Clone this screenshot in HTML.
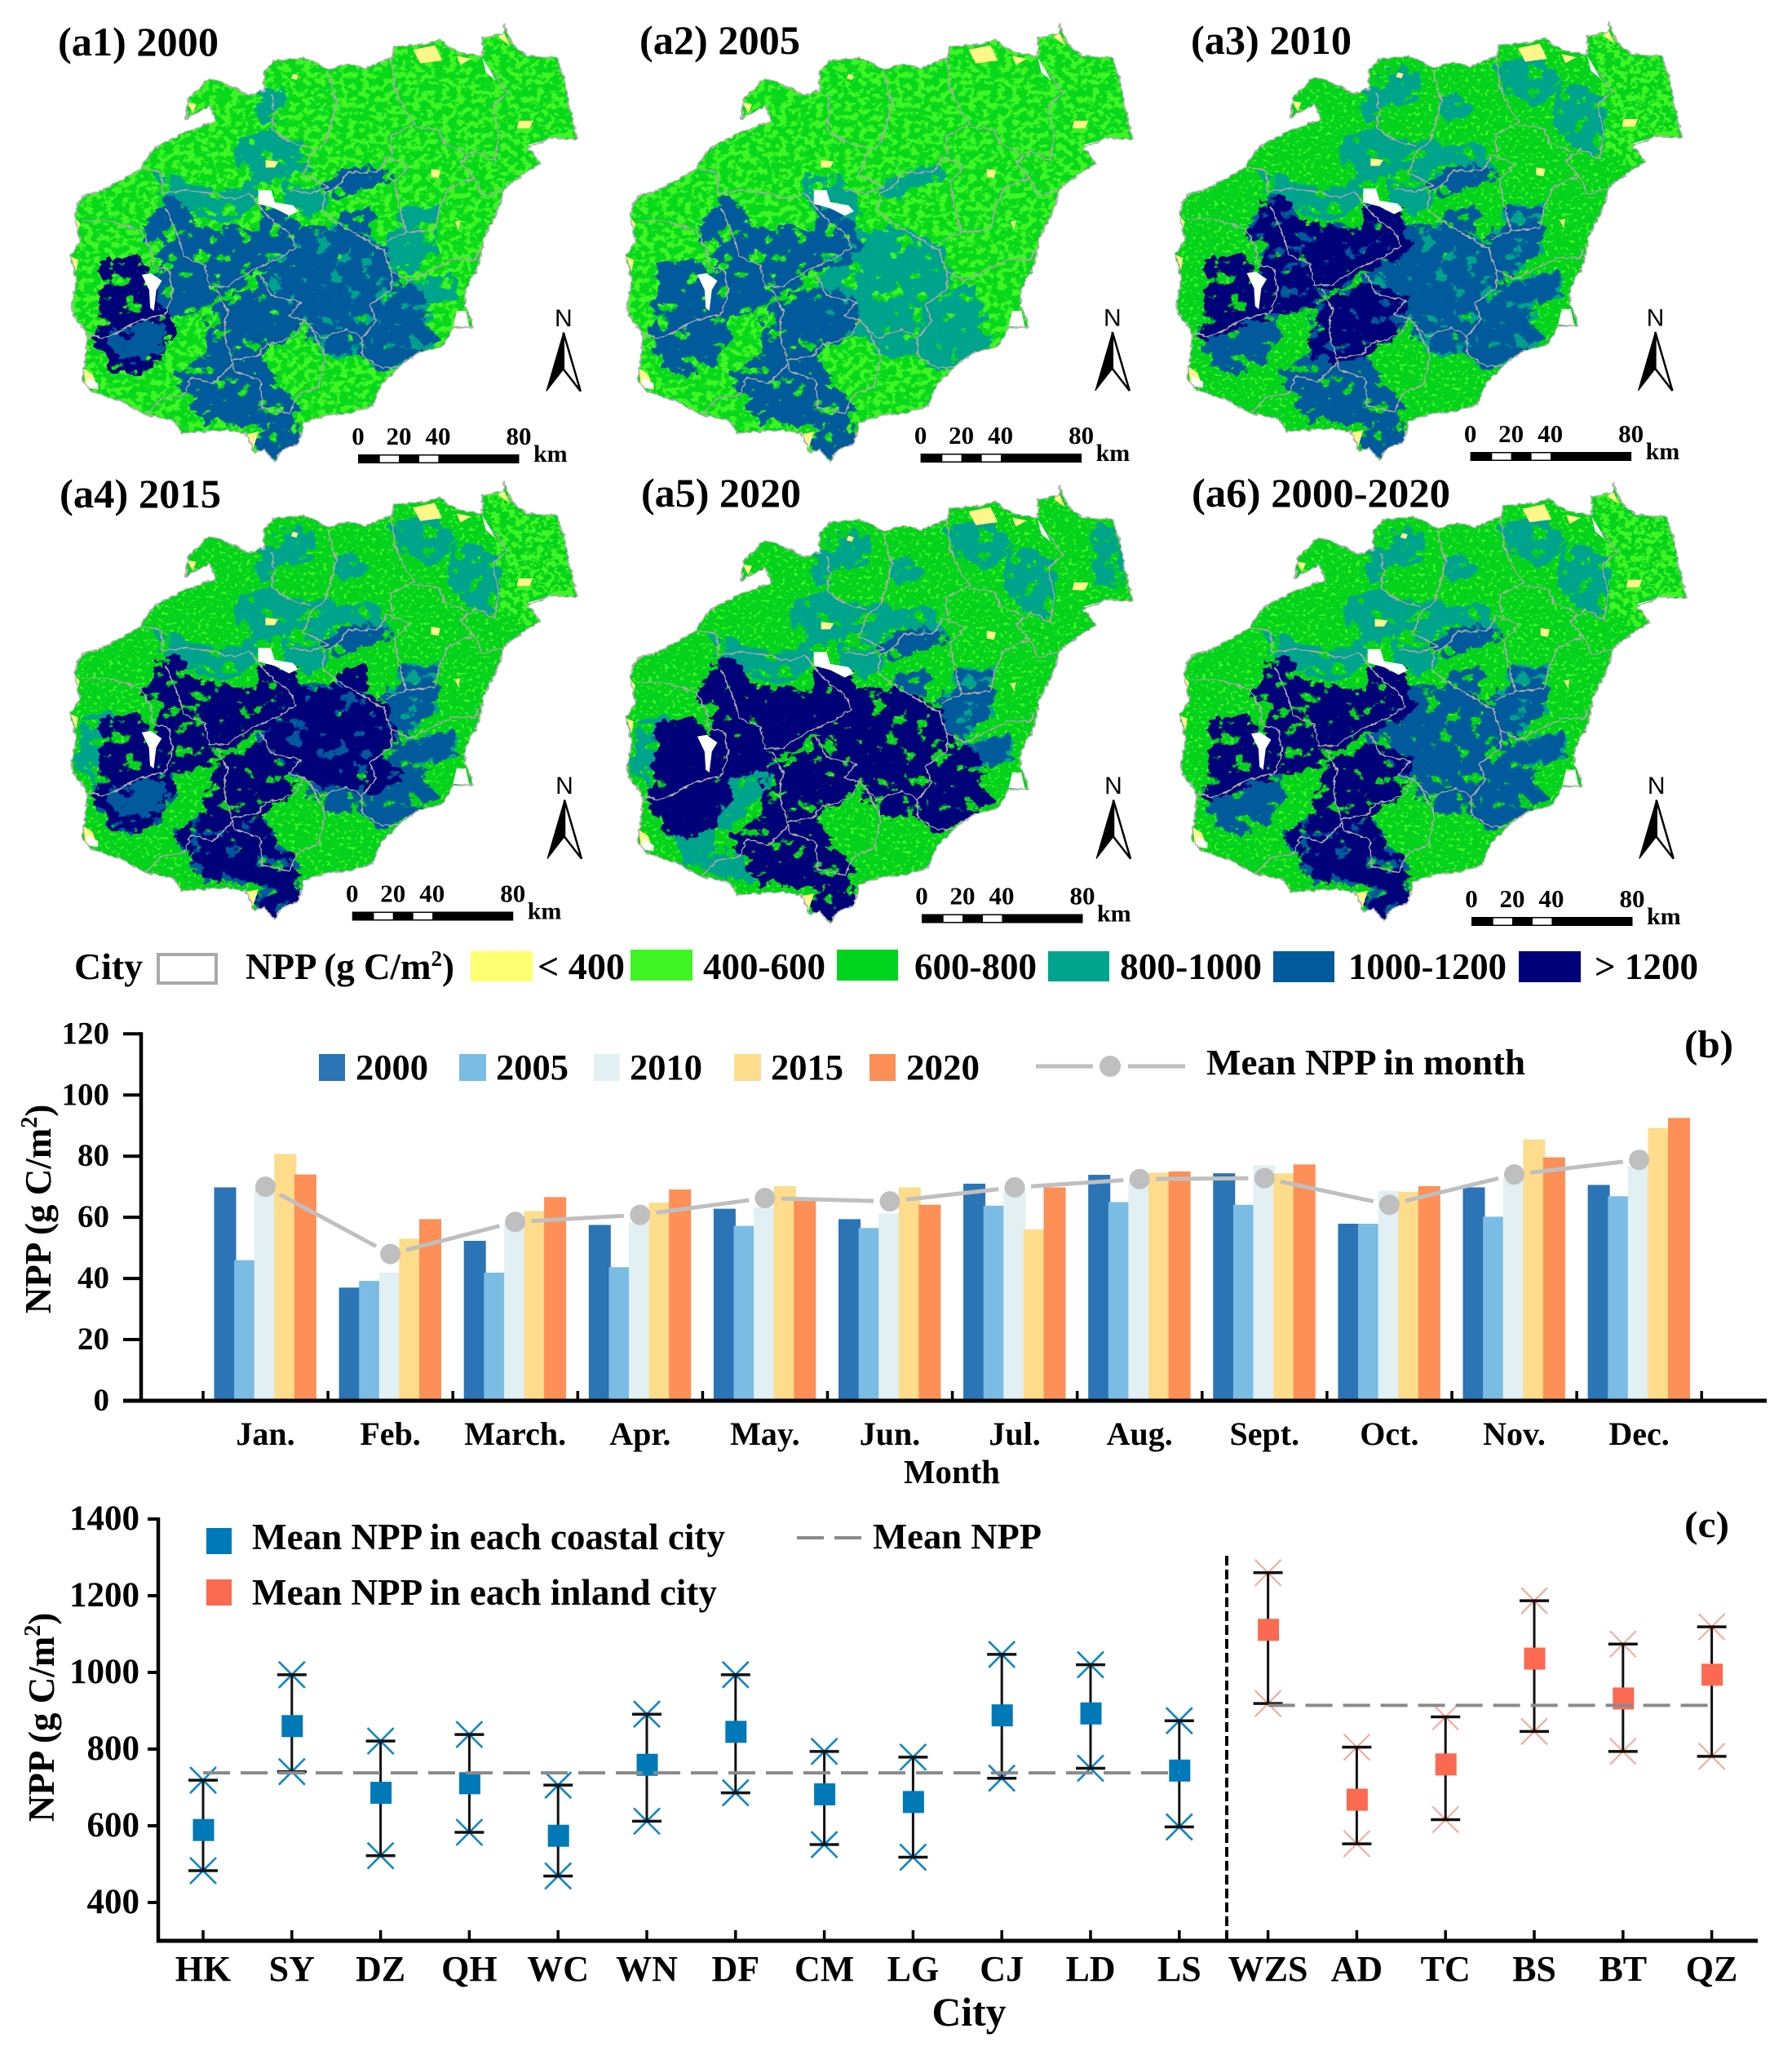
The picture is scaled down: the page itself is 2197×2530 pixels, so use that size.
<!DOCTYPE html>
<html lang="en">
<head>
<meta charset="utf-8">
<title>NPP maps and charts of Hainan</title>
<style>
html,body{margin:0;padding:0;background:#fff;}
svg{display:block;}
text{font-family:"Liberation Serif",serif;font-weight:bold;fill:#000;}
.sans{font-family:"Liberation Sans",sans-serif;font-weight:normal;}
.cls-teal{fill:#00a38c;stroke:#00a38c;stroke-width:30;stroke-linejoin:round;}
.cls-blue{fill:#005a9c;stroke:#005a9c;stroke-width:30;stroke-linejoin:round;}
.cls-navy{fill:#000078;stroke:#000078;stroke-width:30;stroke-linejoin:round;}
</style>
</head>
<body>
<svg id="figure" xmlns="http://www.w3.org/2000/svg" width="2197" height="2530" viewBox="0 0 2197 2530">
<defs>
  <polygon id="island" points="1230,80 1255,150 1290,185 1375,190 1395,260 1415,380 1432,460 1350,460 1295,490 1330,540 1290,570 1230,625 1215,690 1175,790 1160,880 1125,960 1125,1010 1145,1085 1090,1085 1060,1150 1000,1165 940,1215 890,1280 870,1345 820,1365 735,1380 680,1400 665,1470 620,1490 600,1530 570,1490 545,1500 520,1435 470,1425 345,1435 325,1395 245,1375 190,1335 100,1300 70,1260 80,1190 85,1110 50,1050 40,1020 55,930 40,850 65,800 50,710 70,650 130,630 230,560 270,490 350,440 440,400 420,350 355,395 360,330 420,260 470,280 530,315 570,300 570,240 600,200 680,190 750,230 800,210 850,225 920,190 930,155 1020,145 1050,130 1100,170 1170,185 1170,125 1230,110"/>
  <clipPath id="island-clip"><use href="#island"/></clipPath>
  <filter id="edge" filterUnits="userSpaceOnUse" x="0" y="0" width="1568" height="1568" color-interpolation-filters="sRGB">
    <feTurbulence type="fractalNoise" baseFrequency="0.06" numOctaves="2" seed="5" result="n"/>
    <feDisplacementMap in="SourceGraphic" in2="n" scale="14" xChannelSelector="R" yChannelSelector="G"/>
  </filter>
  <filter id="rough" filterUnits="userSpaceOnUse" x="0" y="0" width="1568" height="1568" color-interpolation-filters="sRGB">
    <feTurbulence type="fractalNoise" baseFrequency="0.025" numOctaves="4" seed="3" result="n"/>
    <feDisplacementMap in="SourceGraphic" in2="n" scale="60" xChannelSelector="R" yChannelSelector="G" result="d"/>
    <feTurbulence type="fractalNoise" baseFrequency="0.022" numOctaves="4" seed="8" result="m"/>
    <feColorMatrix in="m" type="matrix" values="0 0 0 0 0  0 0 0 0 0  0 0 0 0 0  14 0 0 0 -4.6" result="mask"/>
    <feComposite in="d" in2="mask" operator="in"/>
  </filter>
  <filter id="rough-b" filterUnits="userSpaceOnUse" x="0" y="0" width="1568" height="1568" color-interpolation-filters="sRGB">
    <feTurbulence type="fractalNoise" baseFrequency="0.03" numOctaves="4" seed="11" result="n"/>
    <feDisplacementMap in="SourceGraphic" in2="n" scale="60" xChannelSelector="R" yChannelSelector="G" result="d"/>
    <feTurbulence type="fractalNoise" baseFrequency="0.024" numOctaves="4" seed="21" result="m"/>
    <feColorMatrix in="m" type="matrix" values="0 0 0 0 0  0 0 0 0 0  0 0 0 0 0  14 0 0 0 -4.4" result="mask"/>
    <feComposite in="d" in2="mask" operator="in"/>
  </filter>
  <filter id="speck-heavy" filterUnits="userSpaceOnUse" x="0" y="0" width="1568" height="1568" color-interpolation-filters="sRGB">
    <feTurbulence type="fractalNoise" baseFrequency="0.05" numOctaves="3" seed="2" result="m"/>
    <feColorMatrix in="m" type="matrix" values="0 0 0 0 0  0 0 0 0 0  0 0 0 0 0  12 0 0 0 -5.9" result="mask"/>
    <feComposite in="SourceGraphic" in2="mask" operator="in"/>
  </filter>
  <filter id="speck-light" filterUnits="userSpaceOnUse" x="0" y="0" width="1568" height="1568" color-interpolation-filters="sRGB">
    <feTurbulence type="fractalNoise" baseFrequency="0.09" numOctaves="2" seed="7" result="m"/>
    <feColorMatrix in="m" type="matrix" values="0 0 0 0 0  0 0 0 0 0  0 0 0 0 0  12 0 0 0 -7.2" result="mask"/>
    <feComposite in="SourceGraphic" in2="mask" operator="in"/>
  </filter>

  <!-- region shapes shared by the six maps -->
  <g id="r-i"><polygon points="560,340 590,300 610,340 610,390 570,390"/><polygon points="930,230 1020,210 1080,250 1060,320 1000,340 960,300"/><polygon points="780,330 830,340 830,380 790,390"/><polygon points="1100,300 1180,320 1210,400 1190,500 1120,480 1090,400"/><polygon points="620,240 700,260 700,300 640,340 610,300"/><polygon points="700,480 800,500 870,500 900,560 820,550 770,590 700,600"/></g>
  <g id="r-a"><polygon points="290,580 350,620 420,640 500,650 530,610 540,660 520,700 450,730 370,690 300,670"/><polygon points="500,470 580,440 660,480 680,540 620,590 550,590 520,540"/><polygon points="640,620 700,640 740,650 730,700 670,700 650,680"/></g>
  <polygon id="r-j" points="750,620 790,570 880,560 900,590 830,620 770,640"/>
  <polygon id="r-j2" points="790,720 850,700 850,760 810,760"/>
  <g id="r-b"><polygon points="300,670 350,680 345,730 420,770 500,770 570,790 640,770 665,820 640,860 570,880 530,910 470,950 430,960 420,1000 340,1030 300,1040 265,1020 265,960 300,900 290,880 320,800 250,780"/><polygon points="570,700 640,720 665,800 600,820 560,760"/></g>
  <polygon id="r-c" points="135,890 210,870 245,900 230,940 260,960 265,1030 300,1050 230,1060 150,1100 115,1110 130,1050 130,980 150,930"/>
  <polygon id="r-d" points="115,1115 170,1090 240,1065 310,1060 310,1120 270,1190 220,1225 170,1220 140,1160"/>
  <polygon id="r-d2" points="160,1110 240,1085 290,1085 280,1150 230,1190 180,1170"/>
  <polygon id="r-e" points="470,1000 580,960 660,1000 660,1060 640,1110 590,1130 550,1180 480,1190 420,1170 430,1060"/>
  <polygon id="r-f" points="500,1200 560,1200 590,1280 640,1330 650,1440 680,1470 590,1520 560,1460 610,1400 500,1390 400,1380 380,1300 340,1240 410,1200"/>
  <polygon id="r-g" points="570,940 610,880 680,770 760,760 900,830 920,930 880,1000 940,1050 880,1100 780,1090 720,1070 660,1040 600,980"/>
  <polygon id="r-h" points="700,1100 790,1100 840,1100 880,1060 870,1000 920,950 980,960 1020,1020 990,1090 1040,1120 960,1190 900,1215 850,1180 830,1160 750,1170"/>
  <g id="r-k"><polygon points="910,790 1030,760 1030,830 960,900 920,880"/><polygon points="960,700 1040,700 1020,750 960,750"/><polygon points="990,950 1080,920 1080,980 1000,1010"/></g>
  <g id="r-t5"><polygon points="440,1010 420,1080 350,1170 290,1210 240,1270 340,1300 390,1370 300,1370 200,1310 170,1230 280,1130 340,1050"/><polygon points="80,880 140,860 150,980 110,1080 70,1000"/></g>
  <polygon id="r-ne" points="1180,100 1440,150 1440,480 1300,560 1200,500 1210,300"/>

  <g id="yellow-spots" fill="#fdf78a">
    <polygon points="980,165 1040,150 1060,200 1000,210"/><polygon points="1100,185 1140,195 1110,215"/><polygon points="360,340 385,345 375,375"/><polygon points="1225,95 1245,150 1215,125"/><polygon points="1270,400 1310,400 1300,425 1265,425"/><polygon points="575,530 610,535 600,555 575,555"/><polygon points="1030,560 1055,565 1050,590 1030,585"/><polygon points="650,245 665,250 660,265 645,260"/><polygon points="75,1220 100,1240 115,1290 80,1280"/><polygon points="520,1440 555,1430 540,1490"/><polygon points="40,850 60,860 55,900"/><polygon points="50,720 65,740 55,790 48,760"/><polygon points="1095,735 1110,730 1105,760"/>
  </g>
  <g id="white-spots" fill="#fff">
    <polygon points="555,630 590,630 600,670 650,680 665,700 640,715 600,690 555,675"/><polygon points="235,910 260,905 290,930 275,960 268,1030 278,1040 258,1020 255,960"/><polygon points="85,1250 115,1270 115,1290 85,1285"/><polygon points="1170,190 1195,240 1205,265 1180,240"/><polygon points="1100,1030 1125,1030 1135,1085 1090,1080"/><polygon points="1295,480 1350,462 1320,490"/>
  </g>
  <g id="city-lines" fill="none" stroke="#a9a9a9" stroke-width="4" stroke-linejoin="round">
    <polyline points="240,560 290,570 290,640 360,630 420,640 490,660 530,640 570,700 600,740 640,770 660,820 620,850 570,880 530,900 470,950 420,950 410,880 350,850 330,770 300,690"/>
    <polyline points="70,730 140,730 230,760 260,830 265,880 310,900 320,970 300,1040 230,1060 170,1100 130,1120 85,1110"/>
    <polyline points="440,960 470,1030 460,1100 480,1190 550,1180 580,1140 620,1130 660,1110 680,1060 640,1050 670,1000 590,980 560,910"/>
    <polyline points="480,1190 490,1230 560,1260 565,1350 640,1370 670,1300 720,1280 740,1180 700,1090"/>
    <polyline points="490,1200 430,1270 370,1250 350,1310 290,1320 245,1375"/>
    <polyline points="680,1060 730,1120 800,1090 840,1120 840,1180 900,1220 940,1215"/>
    <polyline points="840,1120 880,1060 860,1010 920,960 920,900 900,830 800,760 730,700 740,640 780,610 800,570 880,570 910,520 970,550 930,600 940,680 960,770 905,800"/>
    <polyline points="640,630 700,640 750,620 680,580 700,510 740,470 770,340 745,240"/>
    <polyline points="590,310 600,370 590,430 640,470 700,490"/>
    <polyline points="920,900 970,930 1090,860 1150,860 1160,830"/>
    <polyline points="960,770 1040,760 1050,700 1080,620 1150,590 1110,540 1150,500 1205,530 1215,450 1200,350 1240,310 1200,240"/>
    <polyline points="920,190 930,290 960,370 985,410 920,450 920,510"/>
    <polyline points="985,420 1050,430 1070,480 1130,510"/>
    <polyline points="1150,590 1170,650 1225,630"/>
  </g>
</defs>

<rect x="0" y="0" width="2197" height="2530" fill="#fff"/>

<!-- MAP a1 -->
<g transform="translate(69 0) scale(.4464 .37)">
  <use href="#island" fill="#08d81c" filter="url(#edge)"/>
  <g clip-path="url(#island-clip)">
    <rect width="1568" height="1568" fill="#3ff524" filter="url(#speck-heavy)"/>
    <g class="cls-teal" filter="url(#rough)"><use href="#r-a"/><use href="#r-g"/><use href="#r-h"/><use href="#r-k"/><polygon points="560,340 590,300 610,340 610,390 570,390"/></g>
    <g class="cls-blue" filter="url(#rough-b)"><use href="#r-b"/><use href="#r-e"/><use href="#r-f"/><use href="#r-g"/><use href="#r-h"/><use href="#r-j"/><use href="#r-j2"/></g>
    <g class="cls-navy" filter="url(#rough)"><use href="#r-c"/><use href="#r-d"/></g>
    <use href="#r-d2" class="cls-blue" filter="url(#rough-b)"/>
    <use href="#yellow-spots"/><use href="#white-spots"/>
  </g>
  <use href="#city-lines" filter="url(#edge)"/>
  <use href="#island" fill="none" stroke="#b4b4b4" stroke-width="4" filter="url(#edge)"/>
</g>
<!-- MAP a2 -->
<g transform="translate(750 0) scale(.4464 .37)">
  <use href="#island" fill="#08d81c" filter="url(#edge)"/>
  <g clip-path="url(#island-clip)">
    <rect width="1568" height="1568" fill="#3ff524" filter="url(#speck-heavy)"/>
    <g class="cls-teal" filter="url(#rough)"><use href="#r-g"/><use href="#r-h"/><use href="#r-g"/><use href="#r-j"/><polygon points="540,600 640,620 660,720 570,700"/><polygon points="560,1000 680,1000 700,1090 590,1120"/></g>
    <g class="cls-blue" filter="url(#rough-b)"><use href="#r-b"/><use href="#r-c"/><use href="#r-d"/><use href="#r-e"/><use href="#r-f"/></g>
    <use href="#yellow-spots"/><use href="#white-spots"/>
  </g>
  <use href="#city-lines" filter="url(#edge)"/>
  <use href="#island" fill="none" stroke="#b4b4b4" stroke-width="4" filter="url(#edge)"/>
</g>
<!-- MAP a3 -->
<g transform="translate(1423.6 -2) scale(.4464 .37)">
  <use href="#island" fill="#04d21c" filter="url(#edge)"/>
  <g clip-path="url(#island-clip)">
    <rect width="1568" height="1568" fill="#3ff524" filter="url(#speck-light)"/>
    <use href="#r-ne" fill="#3ff524" filter="url(#speck-heavy)"/>
    <g class="cls-teal" filter="url(#rough)"><use href="#r-i"/><use href="#r-a"/><use href="#r-g"/><use href="#r-h"/><use href="#r-k"/></g>
    <g class="cls-blue" filter="url(#rough-b)"><use href="#r-d"/><use href="#r-f"/><use href="#r-g"/><use href="#r-h"/><use href="#r-j"/><use href="#r-j2"/><use href="#r-k"/><use href="#r-b"/><use href="#r-e"/></g>
    <g class="cls-navy" filter="url(#rough)"><use href="#r-b"/><use href="#r-c"/><use href="#r-e"/></g>
    <use href="#yellow-spots"/><use href="#white-spots"/>
  </g>
  <use href="#city-lines" filter="url(#edge)"/>
  <use href="#island" fill="none" stroke="#b4b4b4" stroke-width="4" filter="url(#edge)"/>
</g>
<!-- MAP a4 -->
<g transform="translate(68.8 561) scale(.4464 .37)">
  <use href="#island" fill="#04d21c" filter="url(#edge)"/>
  <g clip-path="url(#island-clip)">
    <rect width="1568" height="1568" fill="#3ff524" filter="url(#speck-light)"/>
    <use href="#r-ne" fill="#3ff524" filter="url(#speck-heavy)"/>
    <g class="cls-teal" filter="url(#rough)"><use href="#r-i"/><use href="#r-a"/><use href="#r-k"/><use href="#r-g"/><polygon points="80,880 140,860 150,980 110,1080 70,1000"/></g>
    <g class="cls-blue" filter="url(#rough-b)"><use href="#r-d"/><use href="#r-h"/><use href="#r-f"/><use href="#r-g"/><use href="#r-j"/><use href="#r-k"/></g>
    <g class="cls-navy" filter="url(#rough)"><use href="#r-b"/><use href="#r-c"/><use href="#r-d"/><use href="#r-e"/><use href="#r-f"/><use href="#r-g"/><use href="#r-j2"/></g>
    <use href="#r-d2" class="cls-blue" filter="url(#rough-b)"/>
    <use href="#yellow-spots"/><use href="#white-spots"/>
  </g>
  <use href="#city-lines" filter="url(#edge)"/>
  <use href="#island" fill="none" stroke="#b4b4b4" stroke-width="4" filter="url(#edge)"/>
</g>
<!-- MAP a5 -->
<g transform="translate(750 566) scale(.4464 .37)">
  <use href="#island" fill="#04d21c" filter="url(#edge)"/>
  <g clip-path="url(#island-clip)">
    <rect width="1568" height="1568" fill="#3ff524" filter="url(#speck-light)"/>
    <g class="cls-teal" filter="url(#rough)"><use href="#r-i"/><use href="#r-a"/><use href="#r-k"/><use href="#r-t5"/><use href="#r-t5"/><polygon points="1330,220 1390,240 1400,420 1340,400"/></g>
    <g class="cls-blue" filter="url(#rough-b)"><use href="#r-h"/><use href="#r-j"/><use href="#r-k"/><use href="#r-j2"/></g>
    <g class="cls-navy" filter="url(#rough-b)"><use href="#r-b"/><use href="#r-c"/><use href="#r-d"/><use href="#r-e"/><use href="#r-f"/><use href="#r-g"/><use href="#r-h"/></g>
    <g class="cls-navy" filter="url(#rough)"><use href="#r-b"/><use href="#r-d"/><use href="#r-c"/></g>
    <use href="#yellow-spots"/><use href="#white-spots"/>
  </g>
  <use href="#city-lines" filter="url(#edge)"/>
  <use href="#island" fill="none" stroke="#b4b4b4" stroke-width="4" filter="url(#edge)"/>
</g>
<!-- MAP a6 -->
<g transform="translate(1429 562.6) scale(.4464 .37)">
  <use href="#island" fill="#04d21c" filter="url(#edge)"/>
  <g clip-path="url(#island-clip)">
    <rect width="1568" height="1568" fill="#3ff524" filter="url(#speck-light)"/>
    <use href="#r-ne" fill="#3ff524" filter="url(#speck-heavy)"/>
    <g class="cls-teal" filter="url(#rough)"><use href="#r-i"/><use href="#r-a"/><use href="#r-k"/></g>
    <g class="cls-blue" filter="url(#rough-b)"><use href="#r-d"/><use href="#r-g"/><use href="#r-h"/><use href="#r-j"/><use href="#r-j2"/><use href="#r-k"/><use href="#r-f"/></g>
    <g class="cls-navy" filter="url(#rough)"><use href="#r-b"/><use href="#r-c"/><use href="#r-e"/><use href="#r-f"/></g>
    <use href="#yellow-spots"/><use href="#white-spots"/>
  </g>
  <use href="#city-lines" filter="url(#edge)"/>
  <use href="#island" fill="none" stroke="#b4b4b4" stroke-width="4" filter="url(#edge)"/>
</g>

<text x="71" y="68" font-size="50" textLength="197" lengthAdjust="spacingAndGlyphs">(a1) 2000</text>
<text x="784" y="66" font-size="50" textLength="197" lengthAdjust="spacingAndGlyphs">(a2) 2005</text>
<text x="1460" y="66" font-size="50" textLength="197" lengthAdjust="spacingAndGlyphs">(a3) 2010</text>
<text x="73" y="622" font-size="50" textLength="198" lengthAdjust="spacingAndGlyphs">(a4) 2015</text>
<text x="786" y="621" font-size="50" textLength="196" lengthAdjust="spacingAndGlyphs">(a5) 2020</text>
<text x="1461" y="621" font-size="50" textLength="317" lengthAdjust="spacingAndGlyphs">(a6) 2000-2020</text>

<g id="map-furniture"></g>

<!-- top legend -->
<g>
  <text x="91" y="1200" font-size="46" textLength="84" lengthAdjust="spacingAndGlyphs">City</text>
  <rect x="194" y="1170" width="71" height="35" fill="#fff" stroke="#aaa" stroke-width="4"/>
  <text x="301" y="1200" font-size="45">NPP (g C/m<tspan dy="-16" font-size="27">2</tspan><tspan dy="16">)</tspan></text>
  <rect x="577" y="1166" width="76" height="37" fill="#ffff73"/>
  <text x="659" y="1200" font-size="45" textLength="107" lengthAdjust="spacingAndGlyphs">&lt; 400</text>
  <rect x="773" y="1164" width="76" height="38" fill="#3ff524"/>
  <text x="862" y="1200" font-size="45" textLength="150" lengthAdjust="spacingAndGlyphs">400-600</text>
  <rect x="1026" y="1164" width="75" height="38" fill="#00d41f"/>
  <text x="1121" y="1200" font-size="45" textLength="150" lengthAdjust="spacingAndGlyphs">600-800</text>
  <rect x="1285" y="1166" width="75" height="37" fill="#00a38c"/>
  <text x="1373" y="1200" font-size="45" textLength="174" lengthAdjust="spacingAndGlyphs">800-1000</text>
  <rect x="1561" y="1166" width="75" height="38" fill="#005a9c"/>
  <text x="1653" y="1200" font-size="45" textLength="194" lengthAdjust="spacingAndGlyphs">1000-1200</text>
  <rect x="1862" y="1166" width="76" height="38" fill="#000078"/>
  <text x="1955" y="1200" font-size="45" textLength="127" lengthAdjust="spacingAndGlyphs">&gt; 1200</text>
</g>

<!-- chart b static text -->
<g id="chart-b"></g>
<text transform="translate(62 1482) rotate(-90)" text-anchor="middle" font-size="45">NPP (g C/m<tspan dy="-17" font-size="28">2</tspan><tspan dy="17">)</tspan></text>
<text x="1167" y="1818" text-anchor="middle" font-size="41" textLength="118" lengthAdjust="spacingAndGlyphs">Month</text>
<text x="2065" y="1296" font-size="48" textLength="60" lengthAdjust="spacingAndGlyphs">(b)</text>
<g>
  <rect x="391" y="1292" width="32" height="33" fill="#2b74b5"/>
  <text x="436" y="1323" font-size="44" textLength="89" lengthAdjust="spacingAndGlyphs">2000</text>
  <rect x="563" y="1292" width="33" height="33" fill="#7abce4"/>
  <text x="608" y="1323" font-size="44" textLength="89" lengthAdjust="spacingAndGlyphs">2005</text>
  <rect x="728" y="1292" width="32" height="33" fill="#e2f0f4"/>
  <text x="772" y="1323" font-size="44" textLength="89" lengthAdjust="spacingAndGlyphs">2010</text>
  <rect x="900" y="1292" width="33" height="33" fill="#fddc8c"/>
  <text x="945" y="1323" font-size="44" textLength="89" lengthAdjust="spacingAndGlyphs">2015</text>
  <rect x="1066" y="1292" width="32" height="33" fill="#fe8f57"/>
  <text x="1111" y="1323" font-size="44" textLength="90" lengthAdjust="spacingAndGlyphs">2020</text>
  <line x1="1270" y1="1307" x2="1340" y2="1307" stroke="#bfbfbf" stroke-width="5"/>
  <circle cx="1361" cy="1307" r="13" fill="#bfbfbf"/>
  <line x1="1383" y1="1307" x2="1453" y2="1307" stroke="#bfbfbf" stroke-width="5"/>
  <text x="1479" y="1317" font-size="44" textLength="391" lengthAdjust="spacingAndGlyphs">Mean NPP in month</text>
</g>

<!-- chart c static text -->
<g id="chart-c"></g>
<text transform="translate(66 2105) rotate(-90)" text-anchor="middle" font-size="45">NPP (g C/m<tspan dy="-17" font-size="28">2</tspan><tspan dy="17">)</tspan></text>
<text x="1188" y="2483" text-anchor="middle" font-size="50" textLength="91" lengthAdjust="spacingAndGlyphs">City</text>
<text x="2065" y="1884" font-size="46" textLength="55" lengthAdjust="spacingAndGlyphs">(c)</text>
<g>
  <rect x="253" y="1873" width="31" height="32" fill="#0079b8"/>
  <text x="309" y="1899" font-size="45" textLength="580" lengthAdjust="spacingAndGlyphs">Mean NPP in each coastal city</text>
  <rect x="253" y="1936" width="31" height="32" fill="#fb6a50"/>
  <text x="309" y="1967" font-size="45" textLength="570" lengthAdjust="spacingAndGlyphs">Mean NPP in each inland city</text>
  <line x1="977" y1="1885" x2="1056" y2="1885" stroke="#8a8a8a" stroke-width="4" stroke-dasharray="33 13"/>
  <text x="1070" y="1898" font-size="44" textLength="207" lengthAdjust="spacingAndGlyphs">Mean NPP</text>
</g>

<script>
// ---- Chart (b) data ----
const months = ['Jan.','Feb.','March.','Apr.','May.','Jun.','Jul.','Aug.','Sept.','Oct.','Nov.','Dec.'];
const years = ['2000','2005','2010','2015','2020'];
const npp2000 = [69.8,37,52.3,57.5,62.8,59.4,71,73.9,74.4,57.9,69.8,70.6];
const npp2005 = [46,39.2,41.9,43.7,57.2,56.5,63.8,65,64.1,57.9,60.2,66.9];
const npp2010 = [69.5,41.9,58,58.4,63.3,61.3,69.5,72.5,77,68.7,72.5,76.6];
const npp2015 = [80.7,53,62,64.8,70.2,69.8,56,74.6,74.4,68.3,85.5,89.2];
const npp2020 = [74,59.4,66.6,69.1,65.9,64.1,69.8,75,77.3,70.2,79.6,92.5];
const monthMean = [70,48,58.5,60.8,66.3,65.2,69.8,72.5,72.8,64.1,74,78.8];
const bTicks = [0,20,40,60,80,100,120];
const barColors = ['#2b74b5','#7abce4','#e2f0f4','#fddc8c','#fe8f57'];

// ---- Chart (c) data ----
const cities = ['HK','SY','DZ','QH','WC','WN','DF','CM','LG','CJ','LD','LS','WZS','AD','TC','BS','BT','QZ'];
const coastalCount = 12;
const cityMean = [589,860,686,711,574,759,845,682,662,888,893,744,1111,668,760,1036,932,994];
const cityUpper = [719,994,821,838,706,891,994,794,779,1047,1020,874,1260,805,884,1187,1074,1119];
const cityLower = [483,741,522,583,469,612,686,551,518,724,750,597,919,553,616,846,794,781];
const coastalMean = 738;
const inlandMean = 914;
const cTicks = [400,600,800,1000,1200,1400];

// ---- helpers ----
const NS = 'http://www.w3.org/2000/svg';
function mk(parent, tag, attrs, content){
  const e = document.createElementNS(NS, tag);
  for (const k in attrs) e.setAttribute(k, attrs[k]);
  if (content !== undefined) e.textContent = content;
  parent.appendChild(e);
  return e;
}

// ---- axis functions ----
function yB(v){ return 1717 - v * 449.7 / 120; }
function xB(i){ return 249 + 153.1 * i; }
function yC(v){ return 2332 - (v - 400) * 0.47; }
function xC(i){ return 249 + 108.8 * i; }

// ---- Chart (b) ----
const gb = document.getElementById('chart-b');
const series = [npp2000,npp2005,npp2010,npp2015,npp2020];
series.forEach(function(vals, s){
  vals.forEach(function(v, i){
    const cx = xB(i) + 76.5;
    const r = mk(gb, 'rect', {x: cx - 63 + 24.6 * s, y: yB(v), width: 27, height: yB(0) - yB(v), fill: barColors[s]});
    
    
  });
});
for (let i = 0; i < monthMean.length - 1; i++){
  const x1 = xB(i) + 76.5, y1 = yB(monthMean[i]), x2 = xB(i + 1) + 76.5, y2 = yB(monthMean[i + 1]);
  const d = Math.hypot(x2 - x1, y2 - y1), ux = (x2 - x1) / d, uy = (y2 - y1) / d;
  const seg = mk(gb, 'line', {x1: x1 + ux * 20, y1: y1 + uy * 20, x2: x2 - ux * 20, y2: y2 - uy * 20, stroke: '#bfbfbf', 'stroke-width': 5});
  
  
}
monthMean.forEach(function(v, i){
  const c = mk(gb, 'circle', {cx: xB(i) + 76.5, cy: yB(v), r: 12.5, fill: '#bfbfbf'});
  
  
});
const bAxisY = mk(gb, 'line', {x1: 173, y1: yB(120) - 2, x2: 173, y2: yB(0), stroke: '#000', 'stroke-width': 4.5});


const bAxisX = mk(gb, 'line', {x1: 151, y1: yB(0), x2: 2166, y2: yB(0), stroke: '#000', 'stroke-width': 5});


bTicks.forEach(function(v){
  const t = mk(gb, 'line', {x1: 151, y1: yB(v), x2: 173, y2: yB(v), stroke: '#000', 'stroke-width': 4});
  
  
  const l = mk(gb, 'text', {x: 134, y: yB(v) + 12, 'text-anchor': 'end', 'font-size': 39}, String(v));
  
  
});
for (let i = 0; i <= months.length; i++){
  const t = mk(gb, 'line', {x1: xB(i), y1: yB(0) - 12, x2: xB(i), y2: yB(0), stroke: '#000', 'stroke-width': 3.5});
  
  
}
months.forEach(function(m, i){
  const l = mk(gb, 'text', {x: xB(i) + 76.5, y: 1771, 'text-anchor': 'middle', 'font-size': 40}, m);
  
  
});

// ---- Chart (c) ----
const gc = document.getElementById('chart-c');
const cAxisY = mk(gc, 'line', {x1: 194, y1: yC(1400) - 2, x2: 194, y2: 2381, stroke: '#000', 'stroke-width': 4.5});


const cAxisX = mk(gc, 'line', {x1: 192, y1: 2379, x2: 2155, y2: 2379, stroke: '#000', 'stroke-width': 5});


const divider = mk(gc, 'line', {x1: 1504, y1: 1907, x2: 1504, y2: 2379, stroke: '#000', 'stroke-width': 4, 'stroke-dasharray': '12 5'});


cTicks.forEach(function(v){
  const t = mk(gc, 'line', {x1: 181, y1: yC(v), x2: 194, y2: yC(v), stroke: '#000', 'stroke-width': 4});
  
  
  const l = mk(gc, 'text', {x: 171, y: yC(v) + 13, 'text-anchor': 'end', 'font-size': 43}, String(v));
  
  
});
cities.forEach(function(name, i){
  const x = xC(i);
  const inland = i >= coastalCount;
  const tick = mk(gc, 'line', {x1: x, y1: 2366, x2: x, y2: 2379, stroke: '#000', 'stroke-width': 3.5});
  
  
  const lab = mk(gc, 'text', {x: x, y: 2428, 'text-anchor': 'middle', 'font-size': 44}, name);
  
  
  const yu = yC(cityUpper[i]), yl = yC(cityLower[i]), ym = yC(cityMean[i]);
  const markColor = inland ? '#f9a594' : '#0a86c8';
  const markWidth = inland ? 2 : 2.6;
  [yu, yl].forEach(function(yy){
    const a = mk(gc, 'line', {x1: x - 16, y1: yy - 16, x2: x + 16, y2: yy + 16, stroke: markColor, 'stroke-width': markWidth});
    
    
    const b = mk(gc, 'line', {x1: x - 16, y1: yy + 16, x2: x + 16, y2: yy - 16, stroke: markColor, 'stroke-width': markWidth});
    
    
    const cap = mk(gc, 'line', {x1: x - 18, y1: yy, x2: x + 18, y2: yy, stroke: '#111', 'stroke-width': 3.5});
    
    
  });
  const stem = mk(gc, 'line', {x1: x, y1: yu, x2: x, y2: yl, stroke: '#111', 'stroke-width': 3});
  
  
  const sq = mk(gc, 'rect', {x: x - 12.5, y: ym - 13.5, width: 26, height: 27, fill: inland ? '#fb6a50' : '#0079b8'});
  
  
});
const meanCoastal = mk(gc, 'line', {x1: xC(0), y1: yC(coastalMean), x2: xC(coastalCount - 1), y2: yC(coastalMean), stroke: '#8a8a8a', 'stroke-width': 4, 'stroke-dasharray': '33 13'});


const meanInland = mk(gc, 'line', {x1: xC(coastalCount), y1: yC(inlandMean), x2: xC(cities.length - 1), y2: yC(inlandMean), stroke: '#8a8a8a', 'stroke-width': 4, 'stroke-dasharray': '33 13'});



// ---- scale bars and north arrows on the maps ----
const gf = document.getElementById('map-furniture');
function furniture(sx, sy, nx, ny, tag){
  const bar = mk(gf, 'g', {transform: 'translate(' + sx + ' ' + sy + ')'});
  
  
  mk(bar, 'rect', {x: 0, y: 0, width: 197.5, height: 11, fill: '#000'});
  mk(bar, 'rect', {x: 26.7, y: 1.5, width: 23.3, height: 8, fill: '#fff'});
  mk(bar, 'rect', {x: 75, y: 1.5, width: 23.4, height: 8, fill: '#fff'});
  mk(bar, 'text', {x: 0, y: -12, 'text-anchor': 'middle', 'font-size': 31}, '0');
  mk(bar, 'text', {x: 50, y: -12, 'text-anchor': 'middle', 'font-size': 31}, '20');
  mk(bar, 'text', {x: 98, y: -12, 'text-anchor': 'middle', 'font-size': 31}, '40');
  mk(bar, 'text', {x: 197, y: -12, 'text-anchor': 'middle', 'font-size': 31}, '80');
  mk(bar, 'text', {x: 215, y: 9, 'font-size': 30}, 'km');
  const arrow = mk(gf, 'g', {transform: 'translate(' + nx + ' ' + ny + ')'});
  
  
  mk(arrow, 'polygon', {points: '0,0 -21,72 0,45', fill: '#000', stroke: '#000', 'stroke-width': 1});
  mk(arrow, 'polygon', {points: '0,0 21,72 0,45', fill: '#fff', stroke: '#000', 'stroke-width': 2.5});
  mk(arrow, 'text', {x: 0, y: -7.5, 'text-anchor': 'middle', 'font-size': 30, 'class': 'sans'}, 'N');
}
furniture(439, 557, 690.8, 407.6, 'a1');
furniture(1128.6, 556, 1363.8, 407, 'a2');
furniture(1802.6, 554, 2029.4, 407, 'a3');
furniture(431.7, 1117.5, 692, 980.6, 'a4');
furniture(1130, 1120.5, 1365, 980.6, 'a5');
furniture(1804, 1124, 2030.7, 980.6, 'a6');
</script>
</svg>
</body>
</html>
